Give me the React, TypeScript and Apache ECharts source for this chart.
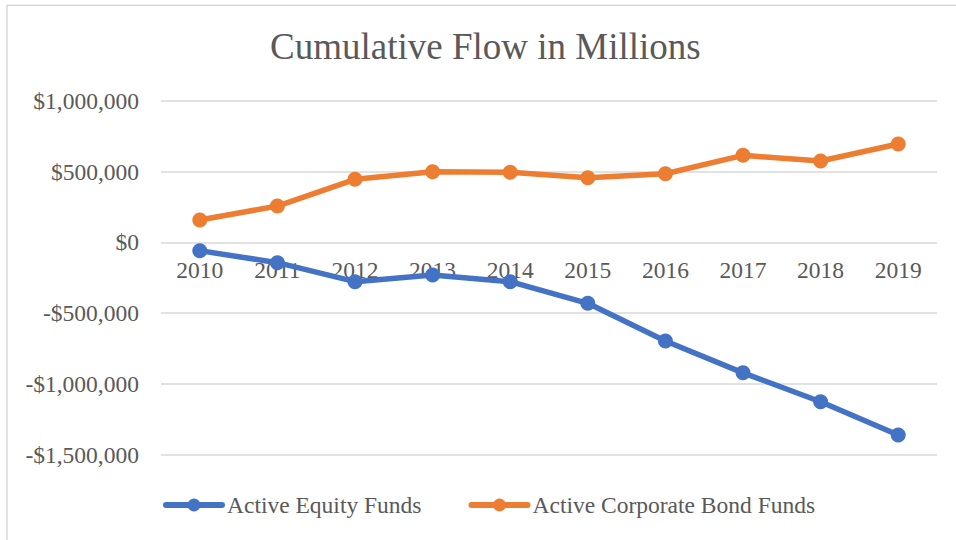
import React, { useEffect, useRef } from "react";
import * as echarts from "echarts";

const years = ["2010", "2011", "2012", "2013", "2014", "2015", "2016", "2017", "2018", "2019"];
const equityFunds = [-59000, -144000, -278000, -231000, -278000, -431000, -697000, -922000, -1126000, -1361000];
const bondFunds = [157000, 256000, 445000, 499000, 494000, 456000, 484000, 614000, 574000, 694000];
const seriesNames = ["Active Equity Funds", "Active Corporate Bond Funds"];
const chartTitle = "Cumulative Flow in Millions";

const FONT = "Liberation Serif";
const TEXT = "#595959";
const GRID = "#D9D9D9";

function fmt(v: number): string {
  const s = Math.abs(v).toLocaleString("en-US");
  return (v < 0 ? "-$" : "$") + s;
}

export default function App() {
  const ref = useRef<HTMLDivElement>(null);
  useEffect(() => {
    if (!ref.current) return;
    const chart = echarts.init(ref.current, undefined, { renderer: "svg" });
    chart.setOption({
      animation: false,
      backgroundColor: "#ffffff",
      title: {
        text: chartTitle,
        left: 270,
        top: 28,
        padding: 0,
        textStyle: { fontFamily: FONT, fontSize: 37, fontWeight: "normal", color: TEXT },
      },
      graphic: [
        {
          type: "rect",
          shape: { x: 7, y: 5.3, width: 1000, height: 600 },
          style: { fill: "none", stroke: GRID, lineWidth: 1.5 },
          silent: true,
        },
      ],
      legend: {
        left: 163,
        top: 493,
        padding: 0,
        itemWidth: 56,
        itemHeight: 16,
        itemGap: 47,
        lineStyle: { width: 6, cap: "round" },
        textStyle: { fontFamily: FONT, fontSize: 23.5, color: TEXT },
        data: seriesNames,
      },
      grid: { left: 161, right: 19, top: 100.7, bottom: 85.3, containLabel: false },
      xAxis: {
        type: "category",
        data: years,
        boundaryGap: true,
        offset: -212.4,
        axisLine: { show: false, onZero: false },
        axisTick: { show: false },
        axisLabel: { fontFamily: FONT, fontSize: 23.5, color: TEXT, margin: 16 },
      },
      yAxis: {
        type: "value",
        min: -1500000,
        max: 1000000,
        interval: 500000,
        axisLine: { show: false },
        axisTick: { show: false },
        splitLine: { lineStyle: { color: GRID, width: 1.5 } },
        axisLabel: { fontFamily: FONT, fontSize: 23.5, color: TEXT, margin: 22, formatter: fmt },
      },
      series: [
        {
          name: seriesNames[0],
          type: "line",
          data: equityFunds,
          symbol: "circle",
          symbolSize: 15,
          color: "#4472C4",
          lineStyle: { width: 5.5, color: "#4472C4", cap: "round", join: "round" },
          itemStyle: { color: "#4472C4" },
          z: 3,
        },
        {
          name: seriesNames[1],
          type: "line",
          data: bondFunds,
          symbol: "circle",
          symbolSize: 15,
          color: "#ED7D31",
          lineStyle: { width: 5.5, color: "#ED7D31", cap: "round", join: "round" },
          itemStyle: { color: "#ED7D31" },
          z: 3,
        },
      ],
    });
    return () => chart.dispose();
  }, []);
  return <div ref={ref} style={{ position: "absolute", left: 0, top: 0, width: 956, height: 540 }} />;
}
